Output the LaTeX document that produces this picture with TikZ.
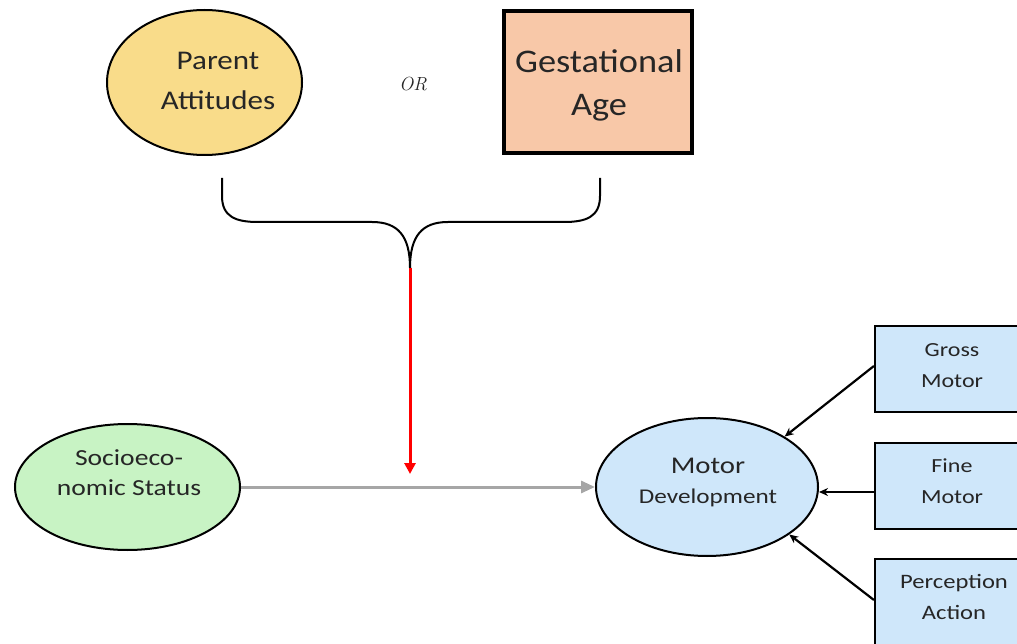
\documentclass[tikz,border=0pt]{standalone}
\usepackage{fontspec}
\setmainfont{Carlito}
\newfontfamily\wfont[FakeStretch=1.2]{Carlito}
\newfontfamily\pfont[FakeStretch=1.15]{Carlito}
\newfontfamily\gfont[FakeStretch=1.1]{Carlito}
\newfontfamily\lmfont{Latin Modern Roman}
\usetikzlibrary{shapes.geometric,arrows.meta}
\definecolor{yel}{HTML}{F9DC8A}
\definecolor{peach}{HTML}{F8C8A8}
\definecolor{grn}{HTML}{C8F3C4}
\definecolor{blu}{HTML}{CFE7FA}
\definecolor{arrgray}{HTML}{A6A6A6}
\definecolor{txt}{HTML}{262626}
\newcommand{\twolines}[5]{{#1\fontsize{#2}{#3}\selectfont\begin{tabular}[t]{@{}c@{}}#4\\#5\end{tabular}}}
\tikzset{
  ell/.style={ellipse, draw=black, line width=2pt, inner sep=0pt},
  sidebox/.style={draw=black, line width=2.2pt, fill=blu, minimum width=156pt, minimum height=86pt, inner sep=0pt},
  lab/.style={anchor=base, inner sep=0pt, text=txt},
  inarr/.style={-{Stealth[length=9pt,width=8pt]}, line width=2.2pt, black}
}
\begin{document}
\begin{tikzpicture}[x=1pt,y=-1pt]
\useasboundingbox (0,0) rectangle (1017,644);
\clip (0,0) rectangle (1017,644);
% top
\node[ell, fill=yel, minimum width=195pt, minimum height=145pt] (pa) at (204.5,82.5) {};
\node[lab] (pat) at (218,70) {\twolines{\pfont}{27}{40}{Parent}{Attitudes}};
\node[text=txt, font=\lmfont\itshape\fontsize{19}{20}\selectfont] (or) at (413,84) {OR};
\node[draw=black, line width=4pt, fill=peach, minimum width=188pt, minimum height=142pt, inner sep=0pt] (ga) at (598,82) {};
\node[lab] (gat) at (599,73) {\twolines{\gfont}{33}{43}{Gestational}{Age}};
% brace
\coordinate (bl) at (222,178);
\coordinate (br) at (600,178);
\coordinate (bt) at (410,268);
\draw[line width=2pt, black] (bl) -- (222,196) .. controls (222,217) and (236,222) .. (258,222) -- (372,222) .. controls (398,222) and (410,236) .. (bt);
\draw[line width=2pt, black] (br) -- (600,196) .. controls (600,217) and (586,222) .. (564,222) -- (448,222) .. controls (422,222) and (410,236) .. (bt);
\coordinate (rend) at (410,474);
\draw[-{Triangle[length=11pt,width=11pt]}, line width=3pt, red] (bt) -- (rend);
% bottom
\node[ell, fill=grn, minimum width=225pt, minimum height=126pt] (ses) at (127.5,487) {};
\node[lab] (sest) at (129,465) {\twolines{\wfont}{23}{30}{Socioeco-}{nomic Status}};
\node[ell, fill=blu, minimum width=222pt, minimum height=138pt] (md) at (707,487) {};
\node[lab] (mdt) at (708,473) {\wfont\fontsize{21}{30}\selectfont\begin{tabular}[t]{@{}c@{}}{\fontsize{24}{30}\selectfont Motor}\\Development\end{tabular}};
\draw[-{Triangle[length=14pt,width=12pt]}, line width=3pt, arrgray] (ses) -- (md);
\node[sidebox] (gm) at (953,369) {};
\node[lab] (gmt) at (952,356) {\twolines{\wfont}{20}{31}{Gross}{Motor}};
\node[sidebox] (fm) at (953,486) {};
\node[lab] (fmt) at (952,472) {\twolines{\wfont}{20}{31}{Fine}{Motor}};
\node[sidebox] (pc) at (953,602) {};
\node[lab] (pct) at (954,588) {\twolines{\wfont}{20.5}{31}{Perception}{Action}};
\draw[inarr] (gm.west |- 0,366) -- (md.33);
\draw[inarr] (fm.west |- 0,492) -- (md.east |- 0,492);
\draw[inarr] (pc.west |- 0,600) -- (md.-30);
\end{tikzpicture}
\end{document}
